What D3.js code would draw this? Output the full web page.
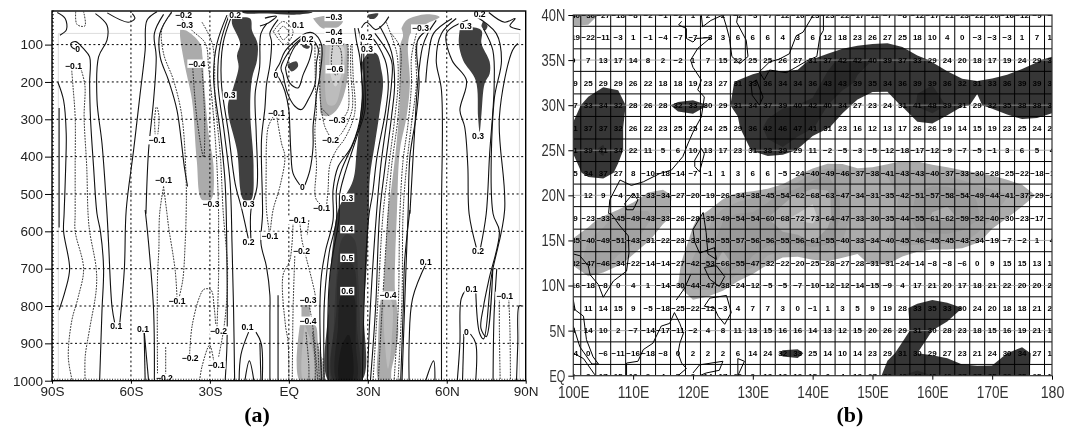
<!DOCTYPE html>
<html>
<head>
<meta charset="utf-8">
<script src="https://cdnjs.cloudflare.com/ajax/libs/d3/7.8.5/d3.min.js"></script>
<style>
html, body { margin: 0; padding: 0; background: #fff; }
svg { display: block; filter: blur(0.3px); }
.num { font-family: "Liberation Sans", Arial, sans-serif; font-size: 8px; font-weight: bold; fill: #000; }
.clabel { font-family: "Liberation Sans", Arial, sans-serif; font-size: 8.6px; fill: #000; font-weight: bold; }
</style>
</head>
<body>
<div id="chart"></div>
<script>
// --- panel (a): latitude / pressure ---
var latTicks = [-90, -60, -30, 0, 30, 60, 90];
var latTickLabels = ["90S", "60S", "30S", "EQ", "30N", "60N", "90N"];
var pressureTicks = [100, 200, 300, 400, 500, 600, 700, 800, 900, 1000];

// shaded areas as [lat, hPa] rings, drawn in this order
var shadeLevels = [
  "low3", "dark3", "low3", "low3", "low4", "low5", "dark3", "dark4", "dark5", "dark6", "dark7",
  "low3", "low4", "dark3", "dark3", "dark3", "dark2", "dark2", "low3", "low4", "top"
];
var shadeAreas = [
  [[-41.3,60],[-39,62],[-33.7,97],[-32.8,133],[-32.2,204],[-30.5,338],[-28.6,428],[-29.6,516],[-33,516],[-35,410],[-36.8,249],[-39.4,160],[-41.3,80]],
  [[-21.6,30],[-14.7,30],[-14,62],[-11.9,97],[-12.1,142],[-14,191],[-14.7,276],[-13.4,428],[-14.4,516],[-17.2,516],[-19.7,383],[-23.2,267],[-21,213],[-19.1,160],[-19.7,129],[-18.5,97],[-21.6,44]],
  [[9.2,30],[15,22],[20.6,34],[18.7,53],[13,57]],
  [[12.4,100],[21.9,100],[22.5,163],[21.3,225],[18.7,270],[15.6,290],[12.4,288],[11.8,252],[11.8,154]],
  [[14,100],[21.3,100],[21.3,163],[20,207],[17.5,261],[14.9,261],[13.7,207]],
  [[15.6,105],[20.6,105],[20.6,163],[17.7,212],[15.6,172]],
  [[27.6,151],[30.1,124],[33.3,124],[35.2,169],[35.8,204],[34.6,276],[32.7,365],[30.8,454],[30.4,543],[29.7,677],[28.5,811],[27.6,1000],[15.2,1000],[15,811],[15.6,721],[16.8,632],[18.7,543],[24.4,463],[25.7,392],[27,294],[28.2,204]],
  [[22.2,605],[25,623],[26.3,721],[27,855],[27,1000],[16.6,1000],[17.1,855],[18.1,721],[20,623]],
  [[22.2,677],[24.7,695],[25.9,855],[26.3,1000],[17.1,1000],[18.1,811],[19.4,695]],
  [[22.2,766],[24.4,770],[25.4,900],[25.4,1000],[18.4,1000],[18.7,855],[20,770]],
  [[22.2,878],[22.9,878],[23.8,1000],[19.4,1000],[20,909]],
  [[42.8,57],[44.7,35],[52.3,19],[57.3,26],[52.3,44],[46.6,66],[45.3,97],[46,204],[44.7,294],[42.2,383],[41.1,543],[40.3,757],[40.9,788],[41.5,882],[39,971],[38.4,1000],[34.3,1000],[33.9,900],[34.8,788],[35.8,757],[37.7,543],[39,481],[40.9,365],[42.2,249],[42.2,106],[43.4,75]],
  [[35.8,784],[36.5,900],[37.7,968],[39,900],[38.7,784]],
  [[65,57],[68.7,53],[73.2,62],[73.2,97],[76.3,146],[76.3,178],[74.4,204],[73.2,285],[72.5,334],[71.9,294],[71,196],[66.2,142],[64.6,97]],
  [[73.8,38],[75.5,50],[74.5,62],[73.2,50]],
  [[30,20],[34,17],[32.7,30],[30.5,30]],
  [[-0.6,154],[2.9,145],[3.5,158],[1,172]],
  [[4.8,100],[8,105],[7.3,111],[5.4,107]],
  [[4.2,851],[9.9,851],[11.1,900],[13,1000],[4.2,1000]],
  [[6,851],[8.5,900],[9.2,1000],[5.5,1000]],
  [[-18.5,10],[5,10],[9,14],[2,20],[-8,17],[-17,16]]
];
var patchArea = [[4.8,797],[8,797],[8,829],[4.8,829]];

var solidContours = [
  [[-87.8,200],[-85.6,249],[-84.6,338],[-84.8,428],[-85.4,553],[-85.6,600],[-83.3,700],[-84.9,757],[-87.3,811]],
  [[-87.3,270],[-87.3,400],[-87.3,590]],
  [[-80.8,113],[-82.3,108],[-82.8,97],[-81,92],[-78,111],[-75.7,133],[-75.7,204],[-75.4,294],[-74.2,428],[-72.9,553],[-71.6,600],[-70.4,700],[-71,811],[-71.9,1000]],
  [[-73.5,17],[-69.1,48],[-69.1,88],[-72.3,133],[-72.9,249],[-71,365],[-69.1,553],[-68.5,632],[-67.2,802],[-66,851]],
  [[-64.3,851],[-62.5,700],[-61.8,543],[-59,383],[-56.5,231],[-54.6,115],[-53.9,35],[-50.1,12]],
  [[-54.3,553],[-53.3,383],[-51.4,249],[-50.4,133],[-51.1,70],[-47.6,19]],
  [[-55,865],[-54.6,1000]],[[-55,865],[-53.3,1000]],
  [[-54.6,543],[-53.3,632],[-51.4,811],[-51.1,1000]],
  [[-44.5,12],[-49,70],[-48.9,133],[-45.7,196],[-42.5,276],[-39.7,428],[-38.5,480]],
  [[-88,14],[-85,30],[-84.5,60],[-87,75]],
  [[-69,15],[-61,40],[-58.5,30],[-59.5,17]],
  [[-23.5,21],[-27.3,97],[-28.6,187],[-26,338],[-24.2,472],[-23.5,700],[-23.5,900],[-24.2,1000]],
  [[-22.5,17],[-26,97],[-27,196],[-24.5,338],[-22.3,472],[-21.6,632],[-21,811],[-20.6,1000]],
  [[-21.6,21],[-25,97],[-25.7,196],[-22.9,338],[-20.4,472],[-17.8,543],[-15.3,623]],
  [[-14.4,623],[-14.4,543],[-12.1,481],[-12.4,338],[-12.8,231],[-11.1,160],[-10.6,70],[-8.4,44]],
  [[-18.9,1000],[-18.2,930],[-15.3,870]],[[-12.5,870],[-10.5,900],[-10.1,1000]],
  [[-16.7,1000],[-15,947],[-13.3,1000]],
  [[-4.1,33],[-7.2,69],[-6.6,91],[-7.2,154],[-8.5,207],[-9.1,270],[-10.4,355],[-10,553],[-10.6,632],[-8.5,695],[-7.2,771],[-7.2,824],[-7.2,1003]],
  [[-9.1,29],[-4.7,24],[-7.8,42],[-11,50]],
  [[-11,900],[-10.6,1000]],
  [[-4.1,771],[-4.1,851],[-4.1,1003]],
  // closed loops over the equator
  [[-1.3,163],[0.4,203],[3.5,216],[5.4,181],[8,136],[8.6,100],[5.4,87],[2.3,105],[-1.3,163]],
  [[-2.2,181],[-0.3,234],[2.3,265],[4.8,274],[7.3,248],[9.9,207],[10.5,149],[11.1,109],[7.3,78],[3.5,91],[-1.5,136],[-3,163],[-2.2,181]],
  [[4.2,476],[1.6,445],[0.8,391],[0.4,329],[0,275],[-1.5,225],[-3.4,194],[-4.7,181],[-5.3,176],[-3.4,149],[-1.5,118],[2.9,87],[6.7,69],[9.2,69],[12.4,100],[11.8,181],[10.5,234],[9.9,275],[9.2,320],[9.2,373],[8,436],[6.1,476]],
  [[27.6,55],[29.5,40],[33,60],[36,45],[38,25]],
  [[28,88],[31,80],[36.5,140],[37.8,204],[36.8,276],[33.5,400],[31.8,500],[30.5,553],[29.5,640],[28.5,811],[27.9,1000]],
  [[32.7,70],[39,143],[39,204],[37.8,276],[35,420],[33.3,553],[31,800],[29.8,1000]],
  [[34.5,50],[39,120],[40.2,204],[39,294],[36.5,430],[34.5,553],[33,800],[31,1000]],
  // the three lines that run down the west side of the dark column
  [[25,56],[25.7,91],[27,136],[27.6,275],[23.8,373],[18.7,427],[16.8,489],[16.8,570],[14,650],[12.4,717],[11.8,806],[12.4,1003]],
  [[26.3,56],[27.6,100],[27.6,172],[28.2,275],[25,355],[20,436],[18.1,489],[18.1,570],[15.5,650],[14.3,717],[13.4,806],[13.4,1003]],
  [[28.5,100],[28.5,154],[28.9,275],[26.3,337],[21.3,445],[19.4,498],[19,570],[17,650],[15.6,717],[14.9,806],[14.9,1003]],
  [[53.7,57],[49,88],[49.5,204],[48.5,285],[46,400],[45.3,553],[44.5,700],[43,1000]],
  [[56,35],[52.8,70],[50.8,106],[49,200],[47.8,330],[46,553]],
  [[63.6,30],[58,70],[56,142],[58,223],[58,553],[58,1000]],
  [[62,30],[55,70],[53,130],[52,200]],
  [[46,543],[44,680],[43.5,800],[42.5,1000]],
  [[52.5,681],[47,780],[45.7,900],[45.7,1000]],
  [[52,1000],[55,947],[55.5,1000]],
  [[68,34],[60,68],[62,142],[67.5,196],[65,276],[66.8,320],[68,425],[68.5,553],[71.3,645]],
  [[72.8,645],[75,553],[76.3,392],[78,215],[77.5,115],[74,58]],
  [[70,20],[78.8,70],[80.8,142],[78,249],[77.6,553],[80,600],[76,730],[74,800],[73,860],[75,882],[77.5,700]],
  [[67.5,755],[65.5,780],[65,900],[64,1000]],
  [[71,755],[72.5,873],[74,888],[77,720],[82,543],[80,294],[85,115],[87,97]],
  [[66.5,875],[66,1000]],[[69,875],[71,900],[71,1000]],
  [[77.6,1000],[78,820],[79,700]],
  [[86.5,1000],[87,900],[87.5,800],[88.5,800]],
  [[76,14],[82,40],[86,30],[84,50],[88,60]]
];

var dashedContours = [
  [[-82.5,170],[-82,214],[-81.2,294],[-81.2,428],[-81.2,553],[-81.2,600],[-78,700],[-80,775],[-82.5,840],[-83.8,937],[-82.3,1000]],
  [[-79,165],[-77.5,209],[-77.8,294],[-76.8,428],[-76.3,553],[-75.7,600],[-73.2,700],[-73.2,757],[-75.8,865],[-77.4,937],[-77.4,1000]],
  [[-81,12],[-80.5,46],[-77.5,50],[-78,12]],
  [[-50,268],[-49.3,295],[-49.8,340]],[[-50.5,268],[-51,300],[-50.8,340]],
  [[-47.6,480],[-49.1,553],[-49.4,650],[-49.9,721],[-49.9,990]],
  [[-47.6,480],[-46.3,553],[-45.7,588],[-43.2,704],[-42.5,777]],
  [[-41.8,780],[-40.3,730],[-39.4,632],[-39,543],[-39,472],[-40.6,294],[-43.8,196],[-47.6,124],[-48.2,57],[-44.4,15]],
  [[-46.8,910],[-46.8,1000]],
  [[-36.5,164],[-35,294],[-32.4,401],[-32,294],[-33,164]],
  [[-41.3,26],[-36.8,62],[-31.7,97],[-30.5,160],[-28.6,294],[-27.3,428],[-26.7,553],[-26.7,600],[-26.7,721],[-27.3,855]],
  [[-37.7,929],[-36.8,855],[-33.9,775],[-32.2,755],[-29.6,757],[-28.4,802],[-27.8,850]],
  [[-33.9,1000],[-33,962],[-30.1,905],[-28.6,945]],
  [[-26.7,936],[-25,873],[-23.8,802],[-23.3,704],[-25,543],[-26,400],[-28,250],[-29,100],[-33,40]],
  [[-7.5,597],[-8.5,543],[-8.6,420],[-8.5,364],[-7.8,320],[-5.9,292]],
  [[-7,597],[-6,543],[-3.4,480],[-1.5,400],[-2.8,364],[-4.7,288]],
  [[1.6,577],[0.4,677],[-2.2,717],[-1.3,851],[-0.3,896],[0,1003]],
  [[4.2,577],[5,625],[6,654],[9.9,766],[10.5,800]],
  [[2.3,659],[1.6,811],[1.3,1000]],
  [[7.6,570],[7,610]],
  [[7.5,790],[9,850],[11,1000]],
  [[6.5,870],[7.6,960],[7.6,1000]],
  [[9,870],[10,950],[10,1000]],[[11,900],[11.6,1000]],[[12,920],[12.6,1000]],[[13,940],[13.5,1000]],
  // small loops at the top near the equator
  [[-4.1,65],[-2.2,51],[0,69],[-2.2,87],[-4.1,65]],
  [[-5.9,65],[-2.2,38],[1.6,65],[-1.5,100],[-5.9,65]],
  // the -0.6 oval and the dashed fan round the light cell
  [[16.8,96],[19.4,109],[19.7,167],[17.7,181],[16.2,154],[16.8,96]],
  [[9.9,100],[10.1,207],[10.5,275],[9.9,329],[10.5,427],[9.9,498],[10.5,516],[12.2,529]],
  [[11.8,100],[11.8,225],[12.4,275],[13.7,320],[15.6,346]],
  [[12.4,270],[14.3,284],[16.2,297]],
  [[20.6,297],[22.5,275],[22.5,181],[22.5,100]],
  [[18.1,351],[20,338],[24,275],[23.5,172],[23.5,100]],
  [[14.3,534],[14.9,489],[15.6,422],[18.1,382],[21.3,351],[25,284],[24.4,181],[24,100]],
  [[37,40],[41,123],[41.5,204],[40.3,294],[37.7,440],[35.8,553],[33.7,800],[32,1000]],
  [[38.8,70],[42.2,106],[42.2,204],[41.5,294],[39,428],[37.7,553],[35.5,800],[34,1000]],
  [[48.5,70],[46.6,133],[46.6,204],[45.3,312],[43.4,410],[42.2,553],[41.6,800],[40,1000]],
  [[51,70],[48.5,97],[48.5,204],[46.6,312],[44.7,428],[43.4,553],[43,780],[41.5,1000]],
  [[80,773],[80,860],[80.3,1000]],[[83.5,773],[84,860],[84.2,1000]]
];

var contourLabels = ["-0.2","-0.3","-0.4","-0.1","0","0.3","-0.1","-0.1","-0.3","0.3","0.2","0.2","0.1","0.1","-0.1","-0.2","-0.2","-0.1","-0.2","0.1","-0.1",
  "-0.3","0.2","0.1","0.2","-0.4","-0.5","-0.6","-0.3","-0.2","0.2","0.3","-0.3","0.3","0.3","-0.1","0","0","-0.1","0.3",
  "-0.1","0.4","0.5","0.6","-0.2","-0.3","-0.4","-0.4","0.1","0.1","-0.1","0","0.2"];
var contourLabelLat = [-40,-39.6,-35,-81.8,-80.3,-22.5,-50.1,-47.6,-29.6,-15.3,-20.4,-15.3,-65.6,-55.4,-42.5,-26.7,-37.5,-27.6,-47.3,-15.7,-7.2,
  17.1,72.5,3.5,7.1,17.1,17.1,17.5,18.3,15.8,29.5,29.7,50,67.2,71.9,-4.7,-4.9,5.1,12.4,22.2,
  3.2,22.2,22.2,22.2,4.8,7.3,7.3,37.7,52,69.4,82,67.5,71.9];
var contourLabelHpa = [21,48,151,157,113,236,356,463,528,528,20,630,855,861,786,866,940,958,992,857,612,
  26,19,48,84,66,90,166,303,355,81,113,57,50,346,283,182,481,538,510,
  570,594,671,760,654,784,840,772,681,755,773,871,654];

// --- panel (b): longitude / latitude grid ---
var lonTicks = [100, 110, 120, 130, 140, 150, 160, 170, 180];
var lonTickLabels = ["100E", "110E", "120E", "130E", "140E", "150E", "160E", "170E", "180"];
var latTicksB = [0, 5, 10, 15, 20, 25, 30, 35, 40];
var latTickLabelsB = ["EQ", "5N", "10N", "15N", "20N", "25N", "30N", "35N", "40N"];

var gridLons = d3.range(100, 180.1, 2.5);
var gridLats = d3.range(40, -0.1, -2.5);
var row40 = [-40,-36,-27,-18,-8,-2,-1,-2,1,2,2,-2,-3,-7,-12,-16,-23,-23,-22,-17,-11,-7,-8,-12,-17,-21,-23,-22,-20,-16,-12,-9,-5];
var row375 = [-19,-22,-11,-3,1,-1,-4,-7,-7,-3,3,6,6,6,4,3,6,12,18,23,26,27,25,18,10,4,0,-3,-3,-3,1,7,12];
var row35 = [0,7,13,17,14,8,2,-2,1,7,15,22,25,25,26,27,31,37,42,42,40,39,37,33,29,24,20,18,17,19,24,29,33];
var row325 = [19,25,29,29,26,22,18,18,19,23,27,31,33,36,34,34,36,43,43,39,35,34,36,39,39,36,32,31,33,36,39,39,36];
var row30 = [27,33,34,32,28,26,28,32,33,30,29,31,34,37,39,40,42,40,34,27,23,24,31,41,48,39,31,29,32,35,38,38,35];
var row275 = [31,37,37,32,26,22,23,25,25,24,25,29,36,42,46,47,41,31,23,16,12,13,17,26,26,19,14,15,19,23,25,24,21];
var row25 = [31,39,41,34,22,11,5,6,10,13,17,23,31,38,39,29,11,-2,-5,-3,-5,-12,-18,-17,-12,-9,-7,-5,-1,3,6,5,4];
var row225 = [25,34,37,27,8,-10,-18,-14,-7,-1,1,3,6,6,-5,-24,-40,-49,-46,-37,-38,-41,-43,-43,-40,-37,-33,-30,-28,-25,-22,-18,-12];
var row20 = [1,12,9,-4,-21,-33,-34,-27,-20,-19,-26,-34,-38,-45,-54,-62,-68,-63,-47,-34,-31,-35,-42,-51,-57,-58,-54,-49,-44,-41,-37,-29,-20];
var row175 = [19,-23,-33,-45,-49,-43,-33,-26,-28,-35,-49,-54,-54,-60,-68,-72,-73,-64,-47,-33,-30,-35,-44,-55,-61,-62,-59,-52,-40,-30,-23,-17,-9];
var row15 = [-35,-40,-49,-51,-43,-31,-22,-23,-33,-45,-55,-57,-56,-56,-55,-56,-61,-55,-40,-33,-34,-40,-45,-46,-45,-45,-43,-34,-19,-7,-2,1,4];
var row125 = [-32,-47,-46,-34,-22,-14,-14,-27,-42,-53,-66,-55,-47,-32,-22,-20,-25,-28,-27,-28,-31,-31,-24,-14,-8,-8,-6,0,9,15,15,13,14];
var row10 = [-16,-18,-8,0,4,1,-14,-30,-44,-47,-38,-24,-12,-5,-5,-7,-10,-12,-12,-14,-15,-9,4,17,21,20,17,18,21,22,20,20,21];
var row75 = [4,11,14,15,9,-5,-18,-25,-22,-12,-3,4,7,7,3,0,-1,1,3,5,9,19,28,33,35,33,30,24,20,18,18,21,24];
var row5 = [8,14,10,2,-7,-14,-17,-11,-2,4,8,11,13,15,16,16,14,13,12,15,20,26,29,31,30,28,23,18,15,16,19,21,18];
var row25b = [-4,0,-6,-11,-16,-18,-8,0,2,2,2,6,14,24,32,33,25,14,10,14,23,29,31,30,29,27,23,21,24,30,34,27,17];
var row0 = [6,3,17,15,18,9,4,7,9,14,17,20,9,13,18,19,15,6,4,18,27,32,40,43,40,40,37,37,35,39,35,25,14];
var gridRows = [row40,row375,row35,row325,row30,row275,row25,row225,row20,row175,row15,row125,row10,row75,row5,row25b,row0];

// coastlines as [lon, lat] lines
var coastLines = [
  [[118.1,39.3],[117.6,38.9],[118.9,38.5],[118.9,37.4],[120,37],[120.6,37.4],[123,37.5],[120.8,36.3],[119.6,35],[120,34.2],[121.4,32.8],[120.8,31.7],[121.9,30.9],[121.4,28.7],[120,27],[119.2,25.8],[118.3,24.3],[116.4,22.8],[114.4,22.4],[111.7,21.5],[109.7,21.1],[107.8,21.7],[106.1,19.5],[105.9,18],[106.4,17.9],[107.8,16.6],[109.2,15.5],[109.3,13.6],[108.9,11.6],[106.7,10.5],[105,8.7],[104.2,10.1],[102.8,11.2],[102.5,12.2],[101.1,13.3],[100,13.5]],
  [[100,8.4],[100.3,7.3],[101.7,6.6],[102.2,4],[103.3,2.1],[104.2,1.3],[103.1,1.3],[101.1,3.2],[100,5.5]],
  [[100,2.5],[101.7,1.9],[103.6,0.1]],
  [[108.9,0],[108.9,1.4],[110.8,1.6],[111.7,2.9],[113.3,3.6],[114.7,5.5],[116.1,5.8],[116.9,7],[117.8,5.8],[118.4,4.7],[117.8,3.6],[117.5,2.5],[118.1,1.4],[118.9,0.8],[117.5,0]],
  [[117.2,8.4],[118.6,9.7],[119.6,11.2]],
  [[120,0.3],[121.1,1.2],[125,1.6],[124.4,0.6],[122.2,0.3],[121.1,0]],
  [[127.5,1.9],[128.6,1.6],[127.5,0],[127.5,1.9]],
  [[121.7,18.1],[120,16.2],[120.3,14.8],[121.1,13.6],[123.6,14.2],[123.9,12.9],[122.5,13.5],[122.2,15.9],[121.7,18.1]],
  [[121.9,12],[122.8,10.7],[124.4,9.9],[125.3,11],[123.9,12.2],[121.9,12]],
  [[121.9,7.7],[122.8,8.6],[125.6,8.9],[126.4,7],[125.3,5.7],[124.2,6.6],[123.6,7.5],[121.9,7.7]],
  [[108.6,19.1],[110,20.2],[110.8,19.5],[110,18.4],[108.9,18.4],[108.6,19.1]],
  [[121.4,25.2],[121.9,24.6],[121.1,22.6],[120.3,23.2],[120.3,23.9],[121.4,25.2]],
  [[125,40],[123,39.4],[121.6,38.7],[121.4,40]],
  [[127.5,40],[127.3,39.2],[128.9,37.2],[129.2,35.4],[127.8,34.6],[126.5,35.4],[126.1,37.4],[125.6,38.7],[125,40]],
  [[130.6,32.8],[131.7,30.9],[131.1,30],[129.9,31.1],[129.7,32.4],[130.6,32.8]],
  [[137.2,37.6],[136.1,35.7],[134.4,35.1],[132.8,34.8],[131.1,33.7],[131.9,32.8],[132.8,33.9],[135.6,33.6],[137.2,34.2],[139,34.9],[140.7,35.4],[141.2,37.6],[141.8,38.3],[141.8,40],[140.1,40],[138.4,38.1],[137.3,37.7],[137.2,37.6]]
];

var W = 1067, H = 429;
var svg = d3.select("#chart").append("svg").attr("width", W).attr("height", H);
var defs = svg.append("defs");
var shadeColors = { low3: "#ababab", low4: "#bcbcbc", low5: "#d2d2d2", dark2: "#444444", dark3: "#404040", dark4: "#363636", dark5: "#2c2c2c", dark6: "#222222", dark7: "#191919", top: "#333333" };

// ---------- panel (a) ----------
var x = d3.scaleLinear().domain([-90, 90]).range([52, 525.7]);
var y = d3.scaleLinear().domain([10, 1000]).range([11, 380.7]);

defs.append("clipPath").attr("id", "clipA").append("rect")
  .attr("x", 52).attr("y", 11).attr("width", 473.7).attr("height", 369.7);

var panelA = svg.append("g");
var plotA = panelA.append("g").attr("clip-path", "url(#clipA)");
var line = d3.line().x(function(d) { return x(d[0]); }).y(function(d) { return y(d[1]); });
var smooth = d3.line().x(function(d) { return x(d[0]); }).y(function(d) { return y(d[1]); }).curve(d3.curveCatmullRom.alpha(0.5));

// the faint frame of the source image
plotA.append("path").attr("fill", "none").attr("stroke", "#dddddd")
  .attr("d", "M" + x(-87.6) + "," + y(1000) + "V" + y(70) + "H" + x(87.6) + "V" + y(1000));

plotA.selectAll("path.shade").data(shadeAreas).enter().append("path")
  .attr("class", "shade")
  .attr("fill", function(d, i) { return shadeColors[shadeLevels[i]]; })
  .attr("d", function(d) { return smooth(d.concat([d[0]])); });
plotA.append("path").attr("fill", shadeColors.low3).attr("d", line(patchArea) + "Z");

// dotted grid
plotA.selectAll("line.gy").data(pressureTicks).enter().append("line")
  .attr("x1", 52).attr("x2", 525.7).attr("y1", y).attr("y2", y)
  .attr("stroke", "#000").attr("stroke-dasharray", "2,2.6");
plotA.selectAll("line.gx").data(latTicks).enter().append("line")
  .attr("y1", 11).attr("y2", 380.7).attr("x1", x).attr("x2", x)
  .attr("stroke", "#000").attr("stroke-dasharray", "2,2.6");

plotA.selectAll("path.sc").data(solidContours).enter().append("path")
  .attr("class", "sc").attr("fill", "none").attr("stroke", "#111").attr("stroke-width", 1.1)
  .attr("d", smooth);
plotA.selectAll("path.dc").data(dashedContours).enter().append("path")
  .attr("class", "dc").attr("fill", "none").attr("stroke", "#222").attr("stroke-width", 0.9)
  .attr("stroke-dasharray", "1.8,1.1").attr("d", smooth);

// contour labels sit on a white box
var labelG = plotA.selectAll("g.cl").data(contourLabels).enter().append("g")
  .attr("transform", function(d, i) { return "translate(" + x(contourLabelLat[i]) + "," + y(contourLabelHpa[i]) + ")"; });
labelG.append("rect")
  .attr("x", function(d) { return -d.length * 2.35; }).attr("y", -4.2)
  .attr("width", function(d) { return d.length * 4.7; }).attr("height", 8.4)
  .attr("fill", "#fff");
labelG.append("text").attr("class", "clabel")
  .attr("text-anchor", "middle").attr("dy", "0.34em")
  .text(function(d) { return d.replace("-", "\u2212"); });

// frame + minor ticks + axes
var minorY = d3.range(10, 1001, 10), minorX = d3.range(-90, 91, 1);
panelA.selectAll("line.my").data(minorY).enter().append("line")
  .attr("x1", 52).attr("x2", 54).attr("y1", y).attr("y2", y).attr("stroke", "#000").attr("stroke-width", 0.8);
panelA.selectAll("line.mx").data(minorX).enter().append("line")
  .attr("x1", x).attr("x2", x).attr("y1", 380.7).attr("y2", 378.7).attr("stroke", "#000").attr("stroke-width", 0.7);
panelA.append("rect").attr("x", 52).attr("y", 11).attr("width", 473.7).attr("height", 369.7)
  .attr("fill", "none").attr("stroke", "#000").attr("stroke-width", 1.4);

var axisA = d3.axisBottom(x).tickValues(latTicks).tickSize(3).tickPadding(3)
  .tickFormat(function(d, i) { return latTickLabels[i]; });
var axisAy = d3.axisLeft(y).tickValues(pressureTicks).tickSize(7).tickPadding(2).tickFormat(d3.format("d"));
panelA.append("g").attr("transform", "translate(0,380.7)").call(axisA)
  .call(function(g) { g.select(".domain").remove(); })
  .selectAll("text").attr("font-family", "Liberation Sans").attr("font-size", 13.5).attr("fill", "#222");
panelA.append("g").attr("transform", "translate(52,0)").call(axisAy)
  .call(function(g) { g.select(".domain").remove(); })
  .selectAll("text").attr("font-family", "Liberation Sans").attr("font-size", 13.5).attr("fill", "#222");

svg.append("text").attr("x", 257).attr("y", 422).attr("text-anchor", "middle")
  .attr("font-family", "Liberation Serif").attr("font-weight", "bold").attr("font-size", 22).text("(a)");

// ---------- panel (b) ----------
var xb = d3.scaleLinear().domain([100, 180]).range([573.3, 1052]);
var yb = d3.scaleLinear().domain([0, 40]).range([375.7, 15]);

defs.append("clipPath").attr("id", "clipB").append("rect")
  .attr("x", 573.3).attr("y", 15).attr("width", 478.7).attr("height", 360.7);

var panelB = svg.append("g");
var plotB = panelB.append("g").attr("clip-path", "url(#clipB)");

// shading comes straight from the grid values
var flat = d3.merge(gridRows);
var contours = d3.contours().size([gridLons.length, gridLats.length]);
var geo = d3.geoPath(d3.geoTransform({
  point: function(px, py) {
    this.stream.point(xb(100 + 2.5 * (px - 0.5)), yb(40 - 2.5 * (py - 0.5)));
  }
}));
var posLevels = [30, 40];
var posColors = ["#363636", "#282828"];
var negLevels = [30, 40, 50, 60, 70];
var negColors = ["#ababab", "#a2a2a2", "#9a9a9a", "#b0b0b0", "#c9c9c9"];

contours.thresholds(negLevels)(flat.map(function(v) { return -v; })).forEach(function(c, i) {
  plotB.append("path").attr("fill", negColors[i]).attr("d", geo(c));
});
contours.thresholds(posLevels)(flat).forEach(function(c, i) {
  plotB.append("path").attr("fill", posColors[i]).attr("d", geo(c));
});

// cell lines sit half way between the grid points
plotB.selectAll("line.cx").data(gridLons.slice(0, -1)).enter().append("line")
  .attr("x1", function(d) { return xb(d + 1.25); }).attr("x2", function(d) { return xb(d + 1.25); })
  .attr("y1", 15).attr("y2", 375.7).attr("stroke", "#000").attr("stroke-width", 1);
plotB.selectAll("line.cy").data(gridLats.slice(0, -1)).enter().append("line")
  .attr("y1", function(d) { return yb(d - 1.25); }).attr("y2", function(d) { return yb(d - 1.25); })
  .attr("x1", 573.3).attr("x2", 1052).attr("stroke", "#000").attr("stroke-width", 1);

// faint lat lines run through the numbers
plotB.selectAll("line.dy").data(latTicksB).enter().append("line")
  .attr("x1", 573.3).attr("x2", 1052).attr("y1", yb).attr("y2", yb)
  .attr("stroke", "#999").attr("stroke-width", 0.8);

var geoLine = d3.line().x(function(d) { return xb(d[0]); }).y(function(d) { return yb(d[1]); });
plotB.selectAll("path.coast").data(coastLines).enter().append("path")
  .attr("fill", "none").attr("stroke", "#000").attr("stroke-width", 1).attr("d", geoLine);

gridRows.forEach(function(row, r) {
  plotB.selectAll("text.r" + r).data(row).enter().append("text")
    .attr("class", "num r" + r)
    .attr("x", function(d, i) { return xb(gridLons[i]); })
    .attr("y", yb(gridLats[r]))
    .attr("dy", "0.36em")
    .attr("text-anchor", "middle")
    .text(function(d) { return (d < 0 ? "\u2212" : "") + Math.abs(d); });
});

panelB.append("rect").attr("x", 573.3).attr("y", 15).attr("width", 478.7).attr("height", 360.7)
  .attr("fill", "none").attr("stroke", "#333").attr("stroke-width", 1.2);

// the tick labels of this panel are a tall narrow face
function narrowLabels(sel) {
  sel.attr("font-family", "Liberation Sans").attr("font-size", 17).attr("fill", "#333")
    .attr("lengthAdjust", "spacingAndGlyphs")
    .attr("textLength", function() { return this.textContent.length * 7.9; });
}
var axisBx = d3.axisBottom(xb).tickValues(lonTicks).tickSize(4).tickPadding(6)
  .tickFormat(function(d, i) { return lonTickLabels[i]; });
var axisBy = d3.axisLeft(yb).tickValues(latTicksB).tickSize(5).tickPadding(3)
  .tickFormat(function(d, i) { return latTickLabelsB[i]; });
panelB.append("g").attr("transform", "translate(0,375.7)").call(axisBx)
  .call(function(g) { g.select(".domain").remove(); })
  .selectAll("text").call(narrowLabels);
panelB.append("g").attr("transform", "translate(573.3,0)").call(axisBy)
  .call(function(g) { g.select(".domain").remove(); })
  .selectAll("text").call(narrowLabels);

svg.append("text").attr("x", 850).attr("y", 422).attr("text-anchor", "middle")
  .attr("font-family", "Liberation Serif").attr("font-weight", "bold").attr("font-size", 22).text("(b)");
</script>
</body>
</html>
